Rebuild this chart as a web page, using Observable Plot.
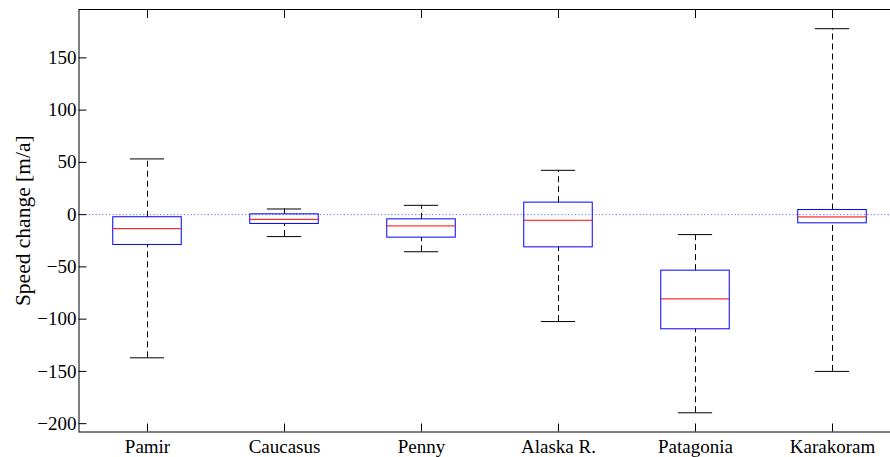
<!DOCTYPE html>
<html>
<head>
<meta charset="utf-8">
<script src="https://cdn.jsdelivr.net/npm/d3@7"></script>
<script src="https://cdn.jsdelivr.net/npm/@observablehq/plot@0.6"></script>
<style>
  html, body { margin: 0; padding: 0; background: white; overflow: hidden; }
  #chart { width: 890px; height: 457px; overflow: hidden; }
  #chart svg, #chart svg text { font-family: "Liberation Serif", "DejaVu Serif", serif !important; }
</style>
</head>
<body>
<div id="chart"></div>
<script>
const regions = ["Pamir", "Caucasus", "Penny", "Alaska R.", "Patagonia", "Karakoram"];
const lowerWhisker = [-137, -21, -35.5, -102.3, -189.6, -150];
const lowerQuartile = [-29, -8.9, -22, -31.3, -109.7, -8.3];
const medianValue = [-13.4, -4.5, -10.8, -5.4, -80.6, -2.2];
const upperQuartile = [-2.5, 0.3, -4.5, 11.5, -53.6, 4.4];
const upperWhisker = [53.3, 5.4, 8.9, 42.4, -19.1, 177.9];
const yTicks = [-200, -150, -100, -50, 0, 50, 100, 150];
const yLabel = "Speed change [m/a]";

const data = regions.map((name, i) => ({
  name, pos: i + 1,
  lo: lowerWhisker[i], q1: lowerQuartile[i], med: medianValue[i],
  q3: upperQuartile[i], hi: upperWhisker[i]
}));
const positions = data.map(d => d.pos);

const dataMin = d3.min(lowerWhisker), dataMax = d3.max(upperWhisker);
const pad = 0.05 * (dataMax - dataMin);

const boxHalf = 0.25, capHalf = 0.125;
const serif = "'Liberation Serif', serif";

const chart = Plot.plot({
  width: 890,
  height: 457,
  marginLeft: 78.5,
  marginRight: -10.5,
  marginTop: 9,
  marginBottom: 25.5,
  style: {fontFamily: serif, fontSize: "19px", background: "white", color: "black", overflow: "hidden"},
  x: {domain: [0.5, 6.5]},
  y: {domain: [dataMin - pad, dataMax + pad]},
  marks: [
    Plot.ruleY([0], {stroke: "#5c5cff", strokeDasharray: "1.2,2.2", strokeOpacity: 0.9}),
    Plot.ruleX(data, {x: "pos", y1: "q3", y2: "hi", stroke: "black", strokeDasharray: "6,4"}),
    Plot.ruleX(data, {x: "pos", y1: "lo", y2: "q1", stroke: "black", strokeDasharray: "6,4"}),
    Plot.ruleY(data, {y: "hi", x1: d => d.pos - capHalf, x2: d => d.pos + capHalf, stroke: "black"}),
    Plot.ruleY(data, {y: "lo", x1: d => d.pos - capHalf, x2: d => d.pos + capHalf, stroke: "black"}),
    Plot.rect(data, {x1: d => d.pos - boxHalf, x2: d => d.pos + boxHalf, y1: "q1", y2: "q3", fill: "none", stroke: "#0000ff"}),
    Plot.ruleY(data, {y: "med", x1: d => d.pos - boxHalf, x2: d => d.pos + boxHalf, stroke: "#ff0000"}),
    Plot.frame({stroke: "black"}),
    Plot.axisY({ticks: yTicks, tickSize: 0, tickPadding: 2.5, fontSize: 19, label: null, anchor: "left", fontFamily: serif}),
    Plot.axisY({ticks: yTicks, tickSize: 8, text: null, dx: 8, label: null, anchor: "left", stroke: "black"}),
    Plot.axisX({ticks: positions, tickFormat: p => regions[p - 1], tickSize: 0, tickPadding: 7, fontSize: 19, label: null, anchor: "bottom", fontFamily: serif}),
    Plot.axisX({ticks: positions, tickSize: 8, text: null, dy: -8, label: null, anchor: "bottom", stroke: "black"}),
    Plot.axisX({ticks: positions, tickSize: 8, text: null, dy: 8, label: null, anchor: "top", stroke: "black"}),
    Plot.text([yLabel], {text: d => d, frameAnchor: "left", textAnchor: "middle", lineAnchor: "middle", dx: -56, rotate: -90, fontSize: 21.5, fill: "black", fontFamily: serif})
  ]
});
document.getElementById("chart").appendChild(chart);
</script>
</body>
</html>
